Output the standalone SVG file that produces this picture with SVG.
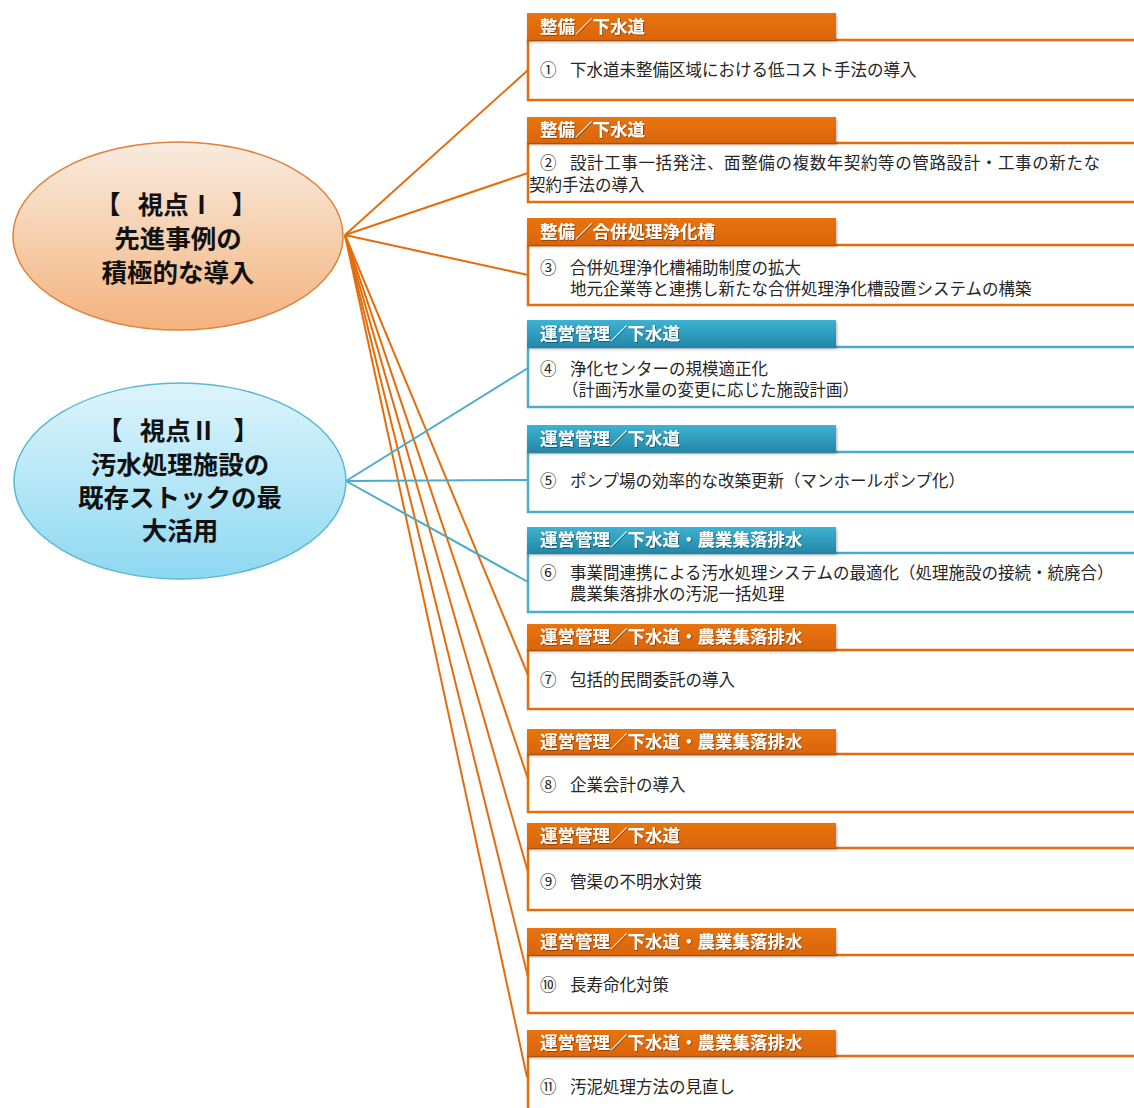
<svg xmlns="http://www.w3.org/2000/svg" width="1134" height="1108" viewBox="0 0 1134 1108">
<defs>
<linearGradient id="gOr" x1="0" y1="0" x2="0" y2="1">
<stop offset="0" stop-color="#F8EBDF"/><stop offset="0.5" stop-color="#F6D0AE"/><stop offset="1" stop-color="#F4B27E"/>
</linearGradient>
<linearGradient id="gBl" x1="0" y1="0" x2="0" y2="1">
<stop offset="0" stop-color="#DDF4FB"/><stop offset="0.5" stop-color="#B6E7F7"/><stop offset="1" stop-color="#8ED8F2"/>
</linearGradient>
<linearGradient id="tOr" x1="0" y1="0" x2="0" y2="1">
<stop offset="0" stop-color="#E8740F"/><stop offset="1" stop-color="#DA6506"/>
</linearGradient>
<linearGradient id="tBl" x1="0" y1="0" x2="0" y2="1">
<stop offset="0" stop-color="#3DB3D3"/><stop offset="1" stop-color="#2487A8"/>
</linearGradient>
<filter id="sh" x="-5%" y="-20%" width="110%" height="150%">
<feDropShadow dx="1" dy="2" stdDeviation="1.5" flood-color="#000" flood-opacity="0.3"/>
</filter>
<filter id="tsh" x="-5%" y="-20%" width="110%" height="150%">
<feDropShadow dx="0.8" dy="0.8" stdDeviation="0.6" flood-color="#000" flood-opacity="0.45"/>
</filter>
</defs>
<style>
.co{stroke:#E46C0A;stroke-width:2;fill:none}
.cb{stroke:#4BACC6;stroke-width:2;fill:none}
.bo{fill:#fff;stroke:#E46C0A;stroke-width:2.5}
.bb{fill:#fff;stroke:#4BACC6;stroke-width:2.5}
.to{fill:url(#tOr)}
.tb{fill:url(#tBl)}
.tt{font-family:"Noto Sans CJK JP","Noto Sans",sans-serif;font-size:17.5px;font-weight:bold;fill:#fff}
.bt{font-family:"Noto Sans CJK JP","Noto Sans",sans-serif;font-size:16.5px;fill:#262626}
.et{font-family:"Noto Sans CJK JP","Noto Sans",sans-serif;font-size:25.5px;font-weight:bold;fill:#111;text-anchor:middle}
</style>
<rect width="1134" height="1108" fill="#fff"/>
<g id="connectors">
<line class="co" x1="345" y1="235" x2="528" y2="70"/>
<line class="co" x1="345" y1="235" x2="528" y2="173"/>
<line class="co" x1="345" y1="235" x2="528" y2="275"/>
<line class="co" x1="345" y1="235" x2="528" y2="675"/>
<line class="co" x1="345" y1="235" x2="528" y2="779"/>
<line class="co" x1="345" y1="235" x2="528" y2="872"/>
<line class="co" x1="345" y1="235" x2="528" y2="977"/>
<line class="co" x1="345" y1="235" x2="527" y2="1077"/>
<line class="cb" x1="346" y1="481" x2="528" y2="368"/>
<line class="cb" x1="346" y1="481" x2="528" y2="480"/>
<line class="cb" x1="346" y1="481" x2="528" y2="582"/>
</g>
<g id="view1">
<ellipse cx="178" cy="236" rx="165" ry="94" fill="url(#gOr)" stroke="#E0823A" stroke-width="1.5"/>
<text class="et" x="176" y="214" xml:space="preserve">【   視点Ⅰ   】</text>
<text class="et" x="178" y="248">先進事例の</text>
<text class="et" x="178" y="282">積極的な導入</text>
</g>
<g id="view2">
<ellipse cx="180" cy="481" rx="166" ry="98" fill="url(#gBl)" stroke="#5AB8D2" stroke-width="1.5"/>
<text class="et" x="178" y="440" xml:space="preserve">【   視点Ⅱ   】</text>
<text class="et" x="180" y="474">汚水処理施設の</text>
<text class="et" x="180" y="507">既存ストックの最</text>
<text class="et" x="180" y="540">大活用</text>
</g>
<g id="item1">
<rect class="bo" x="528" y="40" width="620" height="60"/>
<rect class="to" x="527" y="13" width="309" height="27" filter="url(#sh)"/>
<text class="tt" x="540" y="33" filter="url(#tsh)">整備／下水道</text>
<text class="bt" x="540" y="76">①</text><text class="bt" x="570" y="76">下水道未整備区域における低コスト手法の導入</text>
</g>
<g id="item2">
<rect class="bo" x="528" y="143" width="620" height="59"/>
<rect class="to" x="527" y="117" width="309" height="26" filter="url(#sh)"/>
<text class="tt" x="540" y="136" filter="url(#tsh)">整備／下水道</text>
<text class="bt" x="540" y="169">②</text><text class="bt" x="570" y="169" textLength="530" lengthAdjust="spacing">設計工事一括発注、面整備の複数年契約等の管路設計・工事の新たな</text>
<text class="bt" x="529" y="191">契約手法の導入</text>
</g>
<g id="item3">
<rect class="bo" x="528" y="245" width="620" height="60"/>
<rect class="to" x="527" y="218" width="309" height="27" filter="url(#sh)"/>
<text class="tt" x="540" y="238" filter="url(#tsh)">整備／合併処理浄化槽</text>
<text class="bt" x="540" y="274">③</text><text class="bt" x="570" y="274">合併処理浄化槽補助制度の拡大</text>
<text class="bt" x="570" y="295">地元企業等と連携し新たな合併処理浄化槽設置システムの構築</text>
</g>
<g id="item4">
<rect class="bb" x="528" y="347" width="620" height="60"/>
<rect class="tb" x="527" y="320" width="309" height="27" filter="url(#sh)"/>
<text class="tt" x="540" y="340" filter="url(#tsh)">運営管理／下水道</text>
<text class="bt" x="540" y="375">④</text><text class="bt" x="570" y="375">浄化センターの規模適正化</text>
<text class="bt" x="562" y="396">（計画汚水量の変更に応じた施設計画）</text>
</g>
<g id="item5">
<rect class="bb" x="528" y="452" width="620" height="60"/>
<rect class="tb" x="527" y="425" width="309" height="27" filter="url(#sh)"/>
<text class="tt" x="540" y="445" filter="url(#tsh)">運営管理／下水道</text>
<text class="bt" x="540" y="487">⑤</text><text class="bt" x="570" y="487">ポンプ場の効率的な改築更新（マンホールポンプ化）</text>
</g>
<g id="item6">
<rect class="bb" x="528" y="553" width="620" height="59"/>
<rect class="tb" x="527" y="527" width="309" height="26" filter="url(#sh)"/>
<text class="tt" x="540" y="546" filter="url(#tsh)">運営管理／下水道・農業集落排水</text>
<text class="bt" x="540" y="579">⑥</text><text class="bt" x="570" y="579">事業間連携による汚水処理システムの最適化（処理施設の接続・統廃合）</text>
<text class="bt" x="570" y="600">農業集落排水の汚泥一括処理</text>
</g>
<g id="item7">
<rect class="bo" x="528" y="650" width="620" height="59"/>
<rect class="to" x="527" y="624" width="309" height="26" filter="url(#sh)"/>
<text class="tt" x="540" y="643" filter="url(#tsh)">運営管理／下水道・農業集落排水</text>
<text class="bt" x="540" y="686">⑦</text><text class="bt" x="570" y="686">包括的民間委託の導入</text>
</g>
<g id="item8">
<rect class="bo" x="528" y="754" width="620" height="58"/>
<rect class="to" x="527" y="729" width="309" height="25" filter="url(#sh)"/>
<text class="tt" x="540" y="748" filter="url(#tsh)">運営管理／下水道・農業集落排水</text>
<text class="bt" x="540" y="791">⑧</text><text class="bt" x="570" y="791">企業会計の導入</text>
</g>
<g id="item9">
<rect class="bo" x="528" y="848" width="620" height="62"/>
<rect class="to" x="527" y="823" width="309" height="25" filter="url(#sh)"/>
<text class="tt" x="540" y="842" filter="url(#tsh)">運営管理／下水道</text>
<text class="bt" x="540" y="888">⑨</text><text class="bt" x="570" y="888">管渠の不明水対策</text>
</g>
<g id="item10">
<rect class="bo" x="528" y="955" width="620" height="58"/>
<rect class="to" x="527" y="928" width="309" height="27" filter="url(#sh)"/>
<text class="tt" x="540" y="948" filter="url(#tsh)">運営管理／下水道・農業集落排水</text>
<text class="bt" x="540" y="991">⑩</text><text class="bt" x="570" y="991">長寿命化対策</text>
</g>
<g id="item11">
<rect class="bo" x="528" y="1056" width="620" height="70"/>
<rect class="to" x="527" y="1030" width="309" height="26" filter="url(#sh)"/>
<text class="tt" x="540" y="1049" filter="url(#tsh)">運営管理／下水道・農業集落排水</text>
<text class="bt" x="540" y="1093">⑪</text><text class="bt" x="570" y="1093">汚泥処理方法の見直し</text>
</g>
</svg>
